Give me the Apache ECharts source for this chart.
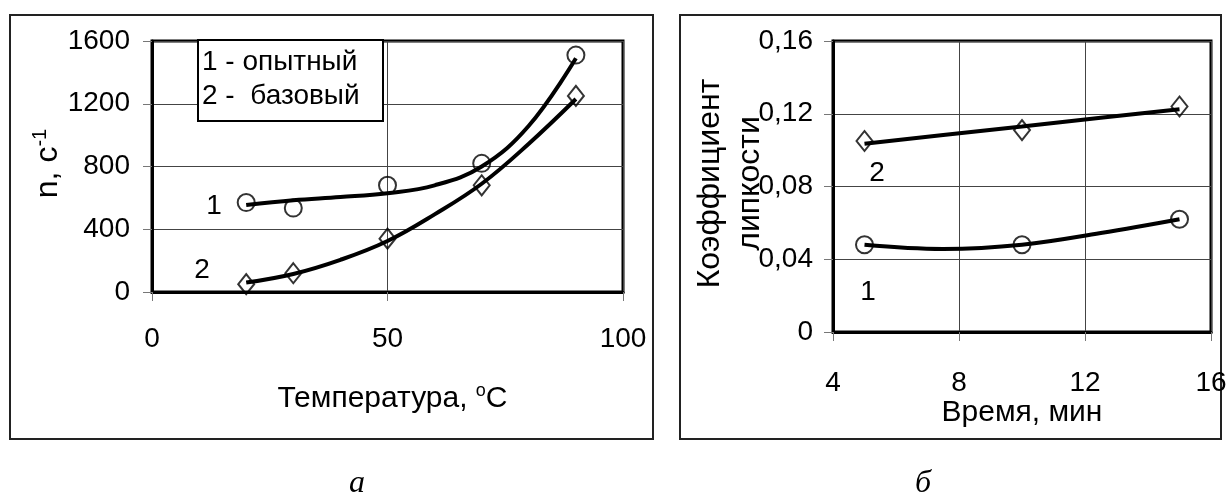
<!DOCTYPE html>
<html>
<head>
<meta charset="utf-8">
<script src="https://cdn.jsdelivr.net/npm/echarts@6/dist/echarts.min.js"></script>
<style>
  html, body { margin: 0; padding: 0; background: #fff; }
  #main { width: 1230px; height: 501px; }
</style>
</head>
<body>
<div id="main"></div>
<script>
// chart a: rotation speed vs temperature
const tempX = [20, 30, 50, 70, 90];
const nExperimental = [570, 535, 680, 820, 1510];
const nBase = [50, 120, 340, 680, 1250];
// trend lines
const trendTempX = [20, 30, 40, 50, 60, 70, 80, 90];
const trendNExperimental = [555, 585, 605, 630, 680, 800, 1060, 1490];
const trendNBase = [60, 115, 205, 325, 495, 690, 945, 1230];

// chart б: tack coefficient vs time
const timeX = [5, 10, 15];
const kExperimental = [0.048, 0.048, 0.062];
const kBase = [0.105, 0.111, 0.124];
const trendTimeX = [5, 7.5, 10, 12.5, 15];
const trendKExperimental = [0.048, 0.0457, 0.048, 0.0544, 0.062];
const trendKBase = [0.1035, 0.1083, 0.113, 0.1178, 0.1225];

const tempTicks = [0, 50, 100];
const nTicks = [0, 400, 800, 1200, 1600];
const timeTicks = [4, 8, 12, 16];
const kTicks = [0, 0.04, 0.08, 0.12, 0.16];

const legendLines = ['1 - опытный', '2 -  базовый'];

const FONT = '"Liberation Sans", Arial, sans-serif';
const FS = 28;   // ticks, legend, curve numbers
const TS = 30;   // axis titles

function pairs(xs, ys) {
    return xs.map((x, i) => [x, ys[i]]);
}

function axisBase(extra) {
    return Object.assign({
        type: 'value',
        nameMoveOverlap: false,
        axisLine: { show: true, lineStyle: { color: '#000', width: 3 } },
        axisTick: { show: true, inside: false, length: 9, lineStyle: { color: '#777', width: 1 } },
        splitLine: { show: true, lineStyle: { color: '#444', width: 1 } },
        nameTextStyle: { color: '#000', fontFamily: FONT, fontSize: TS }
    }, extra);
}

function tickLabel(margin, formatter) {
    return { color: '#000', fontFamily: FONT, fontSize: FS, margin: margin, formatter: formatter || (v => String(v)) };
}

function supRich(size, supSize) {
    return {
        t: { fontFamily: FONT, fontSize: size, color: '#000', lineHeight: size + 4 },
        s: { fontFamily: FONT, fontSize: supSize, color: '#000', verticalAlign: 'top', lineHeight: size + 4 }
    };
}

const trendLine = { type: 'line', symbol: 'none', silent: true, smooth: 0.4,
    lineStyle: { color: '#000', width: 4 } };
const marker = { type: 'scatter', silent: true,
    itemStyle: { color: 'rgba(0,0,0,0)', borderColor: '#000', borderWidth: 2 } };

const chart = echarts.init(document.getElementById('main'));

chart.setOption({
    animation: false,
    backgroundColor: '#fff',
    grid: [
        { left: 152, top: 41, width: 471, height: 251, show: true, borderColor: '#000', borderWidth: 3 },
        { left: 833, top: 41, width: 378, height: 291, show: true, borderColor: '#000', borderWidth: 3 }
    ],
    xAxis: [
        axisBase({
            gridIndex: 0, min: tempTicks[0], max: tempTicks[tempTicks.length - 1], interval: 50,
            axisLabel: tickLabel(33),
            name: '{t|Температура, }{s|o}{t|C}', nameLocation: 'middle', nameGap: 90,
            nameTextStyle: { padding: [0, 0, 0, 10], rich: supRich(TS, 18) }
        }),
        axisBase({
            gridIndex: 1, min: timeTicks[0], max: timeTicks[timeTicks.length - 1], interval: 4,
            axisLabel: tickLabel(37),
            name: 'Время, мин', nameLocation: 'middle', nameGap: 66
        })
    ],
    yAxis: [
        axisBase({
            gridIndex: 0, min: nTicks[0], max: nTicks[nTicks.length - 1], interval: 400,
            axisLabel: tickLabel(22),
            name: '{t|n, с}{s|-1}', nameLocation: 'middle', nameRotate: 90, nameGap: 86,
            nameTextStyle: { padding: [0, 0, 0, 6], rich: supRich(32, 20) }
        }),
        axisBase({
            gridIndex: 1, min: kTicks[0], max: kTicks[kTicks.length - 1], interval: 0.04,
            axisLabel: tickLabel(20, v => v === 0 ? '0' : v.toFixed(2).replace('.', ',')),
            name: 'Коэффициент\nлипкости', nameLocation: 'middle', nameRotate: 90, nameGap: 63,
            nameTextStyle: { color: '#000', fontFamily: FONT, fontSize: 32, lineHeight: 40, padding: [0, 0, 0, 6] }
        })
    ],
    series: [
        Object.assign({}, trendLine, { xAxisIndex: 0, yAxisIndex: 0, data: pairs(trendTempX, trendNExperimental) }),
        Object.assign({}, trendLine, { xAxisIndex: 0, yAxisIndex: 0, data: pairs(trendTempX, trendNBase) }),
        Object.assign({}, marker, { xAxisIndex: 0, yAxisIndex: 0, symbol: 'circle', symbolSize: 17,
            data: pairs(tempX, nExperimental) }),
        Object.assign({}, marker, { xAxisIndex: 0, yAxisIndex: 0, symbol: 'diamond', symbolSize: [16, 20],
            data: pairs(tempX, nBase) }),
        Object.assign({}, trendLine, { xAxisIndex: 1, yAxisIndex: 1, data: pairs(trendTimeX, trendKExperimental) }),
        Object.assign({}, trendLine, { xAxisIndex: 1, yAxisIndex: 1, smooth: false, data: pairs(trendTimeX, trendKBase) }),
        Object.assign({}, marker, { xAxisIndex: 1, yAxisIndex: 1, symbol: 'circle', symbolSize: 17,
            data: pairs(timeX, kExperimental) }),
        Object.assign({}, marker, { xAxisIndex: 1, yAxisIndex: 1, symbol: 'diamond', symbolSize: [16, 20],
            data: pairs(timeX, kBase) })
    ],
    graphic: [
        // frames round each panel
        { type: 'rect', z: 0, silent: true, shape: { x: 10, y: 15, width: 643, height: 424 },
          style: { fill: 'none', stroke: '#222', lineWidth: 2 } },
        { type: 'rect', z: 0, silent: true, shape: { x: 680, y: 15, width: 541, height: 424 },
          style: { fill: 'none', stroke: '#222', lineWidth: 2 } },
        // legend box
        { type: 'rect', z: 100, silent: true, shape: { x: 198, y: 40, width: 185, height: 81 },
          style: { fill: '#fff', stroke: '#000', lineWidth: 2 } },
        { type: 'text', z: 101, silent: true, x: 202, y: 62,
          style: { text: legendLines[0], font: FS + 'px ' + FONT, fill: '#000', verticalAlign: 'middle' } },
        { type: 'text', z: 101, silent: true, x: 202, y: 96,
          style: { text: legendLines[1], font: FS + 'px ' + FONT, fill: '#000', verticalAlign: 'middle' } },
        // curve numbers
        { type: 'text', z: 101, silent: true, x: 214, y: 206,
          style: { text: '1', font: FS + 'px ' + FONT, fill: '#000', align: 'center', verticalAlign: 'middle' } },
        { type: 'text', z: 101, silent: true, x: 202, y: 270,
          style: { text: '2', font: FS + 'px ' + FONT, fill: '#000', align: 'center', verticalAlign: 'middle' } },
        { type: 'text', z: 101, silent: true, x: 877, y: 173,
          style: { text: '2', font: FS + 'px ' + FONT, fill: '#000', align: 'center', verticalAlign: 'middle' } },
        { type: 'text', z: 101, silent: true, x: 868, y: 292,
          style: { text: '1', font: FS + 'px ' + FONT, fill: '#000', align: 'center', verticalAlign: 'middle' } },
        // panel letters
        { type: 'text', z: 101, silent: true, x: 357, y: 484,
          style: { text: 'а', font: 'italic 32px "Liberation Serif", "Times New Roman", serif', fill: '#000',
                   align: 'center', verticalAlign: 'middle' } },
        { type: 'text', z: 101, silent: true, x: 923, y: 484,
          style: { text: 'б', font: 'italic 32px "Liberation Serif", "Times New Roman", serif', fill: '#000',
                   align: 'center', verticalAlign: 'middle' } }
    ]
});
</script>
</body>
</html>
